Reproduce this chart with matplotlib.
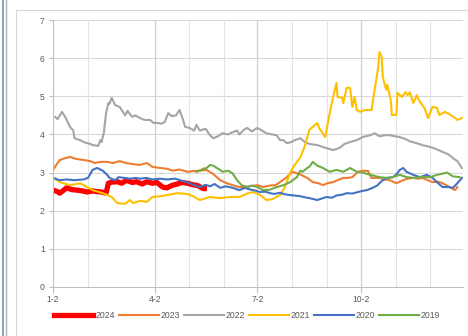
import datetime as dt
import matplotlib
matplotlib.use('Agg')
import matplotlib.pyplot as plt
from matplotlib.lines import Line2D
from matplotlib.patches import Rectangle

# days counted from Jan 2
day_2024 = [0, 4, 6, 10, 12, 17, 21, 26, 30, 35, 39, 43, 47, 49, 52, 57, 61, 65, 70, 74,
            79, 83, 88, 92, 97, 101, 105, 110, 114, 119, 124, 128, 133, 134]
val_2024 = [2.54, 2.50, 2.46, 2.55, 2.60, 2.55, 2.54, 2.52, 2.49, 2.52, 2.50, 2.49, 2.46, 2.72,
            2.75, 2.76, 2.72, 2.80, 2.74, 2.76, 2.70, 2.76, 2.72, 2.74, 2.62, 2.60, 2.66, 2.70,
            2.74, 2.72, 2.68, 2.66, 2.58, 2.58]

day_2023 = [0, 4, 6, 11, 15, 20, 27, 33, 37, 42, 48, 53, 59, 65, 71, 77, 83, 88, 95, 101,
            106, 112, 119, 124, 130, 136, 142, 148, 154, 159, 165, 172, 181, 186, 192, 197,
            201, 207, 212, 219, 225, 230, 235, 239, 243, 248, 252, 257, 261, 265, 270, 274,
            279, 282, 289, 294, 298, 304, 310, 314, 319, 323, 327, 332, 336, 341, 345, 351,
            356, 358]
val_2023 = [3.07, 3.25, 3.33, 3.38, 3.41, 3.36, 3.33, 3.30, 3.25, 3.28, 3.28, 3.25, 3.30, 3.25,
            3.22, 3.20, 3.25, 3.15, 3.12, 3.10, 3.05, 3.08, 3.02, 3.04, 3.05, 3.07, 2.96, 2.80,
            2.72, 2.67, 2.62, 2.63, 2.67, 2.62, 2.66, 2.67, 2.75, 2.88, 3.02, 2.95, 2.86, 2.75,
            2.72, 2.67, 2.72, 2.75, 2.80, 2.86, 2.86, 2.88, 3.02, 3.05, 3.04, 2.86, 2.86, 2.82,
            2.80, 2.72, 2.80, 2.84, 2.86, 2.84, 2.86, 2.80, 2.75, 2.76, 2.72, 2.62, 2.54, 2.62]

day_2022 = [2, 4, 8, 11, 15, 18, 19, 24, 28, 33, 35, 40, 42, 43, 45, 47, 49, 50, 52, 55,
            59, 64, 66, 70, 73, 77, 81, 86, 89, 93, 96, 99, 102, 105, 109, 112, 115, 117,
            121, 125, 127, 130, 135, 139, 142, 146, 150, 155, 159, 163, 165, 169, 172, 176,
            181, 185, 189, 194, 198, 201, 204, 207, 211, 214, 219, 223, 227, 234, 241, 248,
            254, 258, 263, 269, 274, 281, 285, 289, 294, 298, 303, 307, 312, 316, 322, 327,
            334, 339, 345, 350, 354, 358, 362]
val_2022 = [4.46, 4.40, 4.59, 4.45, 4.20, 4.10, 3.90, 3.85, 3.79, 3.75, 3.72, 3.70, 3.85, 3.80,
            4.04, 4.56, 4.82, 4.80, 4.96, 4.77, 4.72, 4.50, 4.62, 4.46, 4.50, 4.43, 4.38, 4.38,
            4.30, 4.30, 4.28, 4.33, 4.56, 4.48, 4.50, 4.64, 4.40, 4.20, 4.17, 4.10, 4.25, 4.10,
            4.15, 3.98, 3.90, 3.95, 4.03, 4.00, 4.06, 4.10, 4.00, 4.12, 4.17, 4.08, 4.17, 4.10,
            4.03, 4.00, 3.98, 3.85, 3.85, 3.77, 3.80, 3.85, 3.90, 3.80, 3.75, 3.72, 3.65, 3.59,
            3.65, 3.75, 3.80, 3.85, 3.93, 3.98, 4.03, 3.95, 3.98, 3.98, 3.95, 3.93, 3.88, 3.82,
            3.77, 3.72, 3.67, 3.62, 3.54, 3.48, 3.38, 3.30, 3.12]

day_2021 = [0, 6, 15, 24, 30, 35, 44, 52, 57, 64, 68, 71, 77, 83, 88, 95, 101, 110, 119, 124,
            130, 139, 148, 157, 165, 172, 177, 183, 189, 194, 201, 205, 210, 214, 219, 223,
            227, 234, 236, 241, 245, 248, 251, 252, 256, 257, 260, 263, 265, 267, 269, 272,
            276, 282, 285, 288, 289, 291, 292, 295, 296, 299, 300, 304, 305, 309, 312, 314,
            316, 319, 322, 325, 329, 332, 336, 340, 342, 347, 351, 356, 358, 362]
val_2021 = [2.88, 2.75, 2.67, 2.72, 2.62, 2.54, 2.46, 2.36, 2.20, 2.18, 2.28, 2.20, 2.26, 2.23,
            2.36, 2.38, 2.41, 2.46, 2.44, 2.38, 2.28, 2.36, 2.33, 2.36, 2.36, 2.45, 2.49, 2.42,
            2.28, 2.30, 2.41, 2.60, 3.00, 3.20, 3.40, 3.70, 4.12, 4.30, 4.15, 3.93, 4.56, 4.98,
            5.35, 4.98, 4.96, 4.82, 5.22, 5.22, 4.72, 4.98, 4.64, 4.59, 4.64, 4.64, 5.22, 5.77,
            6.16, 6.03, 5.50, 5.17, 5.30, 4.90, 4.51, 4.51, 5.09, 4.98, 5.11, 5.03, 5.10, 4.82,
            5.03, 4.85, 4.69, 4.43, 4.72, 4.70, 4.51, 4.59, 4.53, 4.43, 4.38, 4.43]

day_2020 = [0, 6, 12, 19, 27, 31, 35, 39, 44, 48, 50, 55, 58, 63, 68, 73, 77, 83, 88, 95,
            101, 108, 115, 121, 126, 130, 135, 139, 143, 148, 153, 159, 165, 170, 174, 179,
            183, 188, 192, 196, 201, 205, 210, 219, 223, 227, 234, 238, 242, 247, 251, 256,
            260, 265, 270, 274, 278, 283, 287, 289, 292, 296, 301, 304, 307, 310, 313, 319,
            325, 331, 336, 341, 345, 350, 354, 358, 362]
val_2020 = [2.86, 2.80, 2.82, 2.80, 2.82, 2.86, 3.07, 3.12, 3.05, 2.94, 2.86, 2.80, 2.88, 2.86,
            2.84, 2.86, 2.84, 2.86, 2.82, 2.84, 2.82, 2.84, 2.78, 2.72, 2.66, 2.62, 2.68, 2.64,
            2.70, 2.60, 2.64, 2.60, 2.54, 2.60, 2.56, 2.53, 2.49, 2.50, 2.46, 2.44, 2.47, 2.43,
            2.41, 2.38, 2.35, 2.33, 2.28, 2.32, 2.36, 2.34, 2.40, 2.42, 2.46, 2.45, 2.49, 2.52,
            2.54, 2.60, 2.66, 2.72, 2.80, 2.86, 2.88, 2.95, 3.07, 3.12, 3.02, 2.94, 2.88, 2.94,
            2.86, 2.72, 2.62, 2.62, 2.60, 2.72, 2.86]

day_2019 = [127, 130, 133, 136, 139, 142, 145, 148, 150, 155, 159, 163, 167, 172, 176, 181,
            186, 192, 198, 204, 210, 216, 219, 221, 225, 227, 230, 234, 239, 245, 251, 257,
            263, 269, 274, 281, 289, 296, 301, 307, 313, 319, 325, 334, 340, 349, 354, 360]
val_2019 = [3.02, 3.05, 3.10, 3.12, 3.20, 3.18, 3.12, 3.07, 3.02, 3.05, 2.98, 2.80, 2.67, 2.62,
            2.66, 2.62, 2.54, 2.55, 2.62, 2.67, 2.75, 2.88, 3.05, 3.02, 3.12, 3.15, 3.28, 3.18,
            3.12, 3.02, 3.07, 3.02, 3.12, 3.02, 3.00, 2.94, 2.88, 2.86, 2.88, 2.94, 2.88, 2.86,
            2.88, 2.88, 2.94, 3.00, 2.90, 2.88]

series_names = ['2024', '2023', '2022', '2021', '2020', '2019']
tick_labels = ['1-2', '4-2', '7-2', '10-2']

start = dt.date(2023, 1, 2)
def doy(m, d):
    return (dt.date(2023, m, d) - start).days

major_days = [doy(1, 2), doy(4, 2), doy(7, 2), doy(10, 2)]
minor_days = [doy(2, 2), doy(5, 2), doy(6, 2), doy(8, 2), doy(9, 2), doy(11, 2), doy(12, 2)]

colors = ['#FF0000', '#ED7D31', '#A5A5A5', '#FFC000', '#4472C4', '#70AD47']
widths = [3.8, 1.5, 1.5, 1.5, 1.5, 1.5]
days = [day_2024, day_2023, day_2022, day_2021, day_2020, day_2019]
vals = [val_2024, val_2023, val_2022, val_2021, val_2020, val_2019]

plt.rcParams['font.family'] = ['Liberation Sans', 'DejaVu Sans']

fig = plt.figure(figsize=(4.68, 3.36), dpi=100)
fig.patch.set_facecolor('white')

# outer frame bits
fig.add_artist(Rectangle((15.5 / 468, -0.1), 1.2, 1 - 9.5 / 336 + 0.1, transform=fig.transFigure,
                         fill=False, edgecolor='#D9D9D9', linewidth=0.8))
fig.add_artist(Line2D([2.7 / 468] * 2, [0, 1], transform=fig.transFigure, color='#7F8FA9', linewidth=1.2))
fig.add_artist(Line2D([5.5 / 468] * 2, [0, 1], transform=fig.transFigure, color='#A9B6CC', linewidth=1.0))

ax = fig.add_axes([53 / 468, 1 - 287 / 336, (463 - 53) / 468, (287 - 20) / 336])

for d, v, c, w, n in zip(days, vals, colors, widths, series_names):
    ax.plot(d, v, color=c, linewidth=w, label=n, solid_joinstyle='round')

ax.set_xlim(0, 363)
ax.set_ylim(0, 7)
ax.set_yticks(range(0, 8))
ax.set_xticks(major_days)
ax.set_xticklabels(tick_labels)

for y in range(1, 8):
    ax.axhline(y, color='#D9D9D9', linewidth=0.8, zorder=0)
for x in minor_days:
    ax.axvline(x, color='#E3E3E3', linewidth=0.8, zorder=0)
for x in major_days[1:]:
    ax.axvline(x, color='#D0D0D0', linewidth=0.9, zorder=0)

for s in ['top', 'right']:
    ax.spines[s].set_visible(False)
for s in ['left', 'bottom']:
    ax.spines[s].set_color('#BFBFBF')
    ax.spines[s].set_linewidth(0.8)

ax.tick_params(axis='both', colors='#BFBFBF', labelcolor='#595959', labelsize=6.2, width=0.8)
ax.tick_params(axis='y', length=3, pad=3)
ax.tick_params(axis='x', length=4, pad=2)

ax.legend(loc='center', bbox_to_anchor=(247 / 468, 1 - 316 / 336), bbox_transform=fig.transFigure,
          ncol=6, frameon=False, fontsize=6.2, handlelength=4.6, handletextpad=0.25,
          columnspacing=0.45, labelcolor='#595959', borderpad=0, borderaxespad=0)

fig.savefig('out.png', dpi=100, facecolor='white')
